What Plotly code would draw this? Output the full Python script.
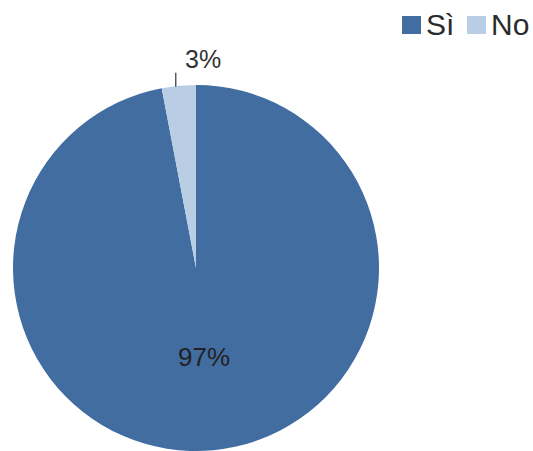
import math
import plotly.graph_objects as go

# Survey answers and their shares (%)
labels = ["Sì", "No"]
values = [97, 3]
colors = ["#426DA1", "#B9CDE5"]

W, H = 533, 451
# pie geometry in pixels
cx, cy, R = 196, 268, 183


def px(x):
    return x / W


def py(y):
    return 1 - y / H


total = sum(values)
fig = go.Figure(
    go.Pie(
        labels=labels,
        values=values,
        sort=False,
        direction="clockwise",
        rotation=0,
        marker=dict(colors=colors, line=dict(width=0)),
        textinfo="none",
        hoverinfo="label+percent",
        showlegend=False,
        domain=dict(x=[px(cx - R), px(cx + R)], y=[py(cy + R), py(cy - R)]),
    )
)

annotations = []
shapes = []
start = 0.0
for lab, v in zip(labels, values):
    frac = v / total
    mid = (start + frac / 2) * 2 * math.pi  # clockwise from 12 o'clock
    start += frac
    pct = f"{round(frac * 100)}%"
    sx, sy = math.sin(mid), -math.cos(mid)
    if frac > 0.5:
        r = 0.49 * R
        annotations.append(dict(
            x=px(cx + sx * r), y=py(cy + sy * r), xref="paper", yref="paper",
            text=pct, showarrow=False, xanchor="center", yanchor="middle",
            font=dict(size=26, color="#222222"),
        ))
    else:
        ex, ey = cx + sx * R - 3, cy + sy * R + 1
        shapes.append(dict(
            type="line", xref="paper", yref="paper",
            x0=px(ex), y0=py(ey), x1=px(ex), y1=py(ey - 14),
            line=dict(color="#333333", width=1.2),
        ))
        annotations.append(dict(
            x=px(ex + 7), y=py(ey - 28), xref="paper", yref="paper",
            text=pct, showarrow=False, xanchor="left", yanchor="middle",
            font=dict(size=25, color="#333333"),
        ))

# legend drawn as swatches + labels
leg_x = [402, 467]
for lab, col, lx in zip(labels, colors, leg_x):
    shapes.append(dict(
        type="rect", xref="paper", yref="paper",
        x0=px(lx), x1=px(lx + 19), y0=py(34), y1=py(16),
        fillcolor=col, line=dict(width=0),
    ))
    annotations.append(dict(
        x=px(lx + 22), y=py(25), xref="paper", yref="paper",
        text=lab, showarrow=False, xanchor="left", yanchor="middle",
        font=dict(size=30, color="#2b2b2b"),
    ))

fig.update_layout(
    width=W, height=H,
    margin=dict(l=0, r=0, t=0, b=0),
    paper_bgcolor="white", plot_bgcolor="white",
    font=dict(family="Liberation Sans, Arial, sans-serif"),
    annotations=annotations, shapes=shapes,
)

fig.write_html("out.html")
